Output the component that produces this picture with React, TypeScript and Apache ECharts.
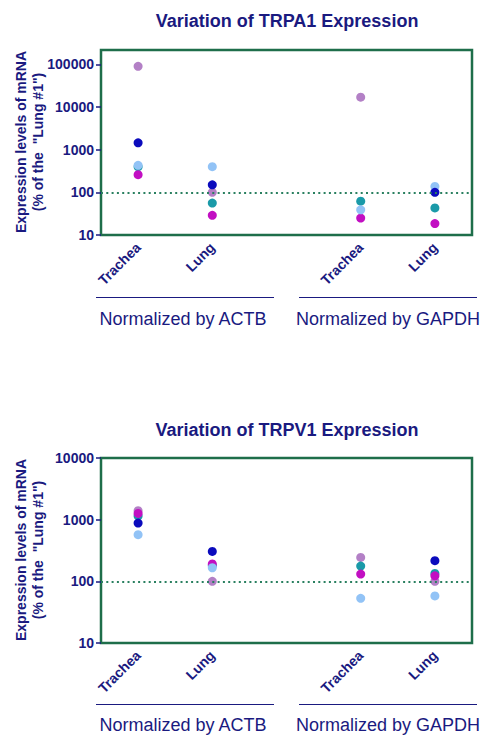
import React, { useEffect, useRef } from "react";
import * as echarts from "echarts";

// Column positions on the x value axis (gap between the two normalization groups)
const positions = [1, 2, 4, 5];
const tissueLabels = ["Trachea", "Lung", "Trachea", "Lung"];
const groupLabels = ["Normalized by ACTB", "Normalized by GAPDH"];
const yTicks = [10, 100, 1000, 10000, 100000];
const yTicksV1 = [10, 100, 1000, 10000];

const sampleNames = ["Sample A", "Sample B", "Sample C", "Sample D", "Sample E"];
const sampleColors = ["#b380c6", "#1a9aa8", "#c20fc2", "#92c3f6", "#0b0bbd"];

// TRPA1 values per sample, columns: Trachea/ACTB, Lung/ACTB, Trachea/GAPDH, Lung/GAPDH
const trpa1A = [90000, 100, 17000, null];
const trpa1B = [400, 56, 62, 43];
const trpa1C = [260, 29, 25, 18.5];
const trpa1D = [430, 400, 39, 137];
const trpa1E = [1450, 150, null, 100];

// TRPV1 values per sample
const trpv1A = [1400, 100, 244, 100];
const trpv1B = [1150, 180, 177, 134];
const trpv1C = [1260, 191, 131, 123];
const trpv1D = [570, 166, 53, 58];
const trpv1E = [880, 305, null, 216];

const trpa1 = [trpa1A, trpa1B, trpa1C, trpa1D, trpa1E];
const trpv1 = [trpv1A, trpv1B, trpv1C, trpv1D, trpv1E];

const NAVY = "#1a1a80";
const GREEN = "#1e6e4a";
const DOT = "#2a8060";
const FONT = "'Liberation Sans', Arial, sans-serif";

function toPoints(vals: (number | null)[]) {
  const out: number[][] = [];
  vals.forEach((v, i) => {
    if (v != null) out.push([positions[i], v]);
  });
  return out;
}

export default function App() {
  const ref = useRef<HTMLDivElement>(null);

  useEffect(() => {
    if (!ref.current) return;
    const chart = echarts.init(ref.current, null, { renderer: "svg" });

    const grids = [
      { left: 101, top: 50, width: 371, height: 185 },
      { left: 101, top: 458, width: 371, height: 185 },
    ];

    const makeY = (gi: number, max: number, ticks: number[]) => ({
      type: "log",
      logBase: 10,
      gridIndex: gi,
      min: 10,
      max,
      axisLine: { show: false },
      axisTick: {
        show: true,
        length: 5,
        lineStyle: { color: NAVY, width: 1.5 },
        customValues: ticks,
      },
      axisLabel: {
        customValues: ticks,
        color: NAVY,
        fontWeight: "bold",
        fontSize: 14,
        fontFamily: FONT,
        margin: 7,
        formatter: (v: number) => String(Math.round(v)),
      },
      splitLine: { show: false },
    });

    const makeX = (gi: number) => ({
      type: "value",
      gridIndex: gi,
      min: 0.5,
      max: 5.5,
      axisLine: { show: false },
      axisTick: { show: false },
      splitLine: { show: false },
      axisLabel: {
        customValues: positions,
        rotate: 45,
        margin: 10,
        color: NAVY,
        fontWeight: "bold",
        fontSize: 14,
        fontFamily: FONT,
        formatter: (v: number) => tissueLabels[positions.indexOf(v)] ?? "",
      },
    });

    const series: any[] = [];
    [trpa1, trpv1].forEach((set, gi) => {
      set.forEach((vals, si) => {
        series.push({
          type: "scatter",
          name: sampleNames[si],
          xAxisIndex: gi,
          yAxisIndex: gi,
          symbol: "circle",
          symbolSize: 9,
          itemStyle: { color: sampleColors[si], opacity: 1 },
          data: toPoints(vals),
          markLine:
            si === 0
              ? {
                  silent: true,
                  symbol: "none",
                  label: { show: false },
                  lineStyle: { color: DOT, type: [2, 3.3], width: 2 },
                  data: [{ yAxis: 100 }],
                }
              : undefined,
        });
      });
    });

    const titleStyle = (text: string, y: number) => ({
      type: "text",
      x: 287,
      y,
      style: {
        text,
        fill: NAVY,
        font: `bold 18px ${FONT}`,
        align: "center",
        verticalAlign: "middle",
      },
    });

    const yTitle = (cy: number) => ({
      type: "text",
      x: 29,
      y: cy,
      rotation: Math.PI / 2,
      style: {
        text: 'Expression levels of mRNA\n(% of the  "Lung #1")',
        fill: NAVY,
        font: `bold 14px ${FONT}`,
        lineHeight: 17,
        align: "center",
        verticalAlign: "middle",
      },
    });

    const groupDeco = (lineY: number, textY: number) => [
      {
        type: "line",
        shape: { x1: 96, y1: lineY + 0.5, x2: 274, y2: lineY + 0.5 },
        style: { stroke: NAVY, lineWidth: 1 },
      },
      {
        type: "line",
        shape: { x1: 299, y1: lineY + 0.5, x2: 477, y2: lineY + 0.5 },
        style: { stroke: NAVY, lineWidth: 1 },
      },
      {
        type: "text",
        x: 183,
        y: textY,
        style: {
          text: groupLabels[0],
          fill: NAVY,
          font: `18px ${FONT}`,
          align: "center",
          verticalAlign: "middle",
        },
      },
      {
        type: "text",
        x: 388,
        y: textY,
        style: {
          text: groupLabels[1],
          fill: NAVY,
          font: `18px ${FONT}`,
          align: "center",
          verticalAlign: "middle",
        },
      },
    ];

    chart.setOption({
      animation: false,
      backgroundColor: "#ffffff",
      grid: grids.map((g) => ({
        ...g,
        show: true,
        borderColor: GREEN,
        borderWidth: 2.5,
        backgroundColor: "transparent",
        containLabel: false,
      })),
      xAxis: [makeX(0), makeX(1)],
      yAxis: [makeY(0, 217000, yTicks), makeY(1, 10000, yTicksV1)],
      series,
      graphic: [
        titleStyle("Variation of TRPA1 Expression", 21),
        titleStyle("Variation of TRPV1 Expression", 430),
        yTitle(142),
        yTitle(550),
        ...groupDeco(297, 319),
        ...groupDeco(704, 725),
      ],
    });

    return () => chart.dispose();
  }, []);

  return (
    <div
      ref={ref}
      style={{ position: "absolute", left: 0, top: 0, width: 484, height: 735 }}
    />
  );
}
